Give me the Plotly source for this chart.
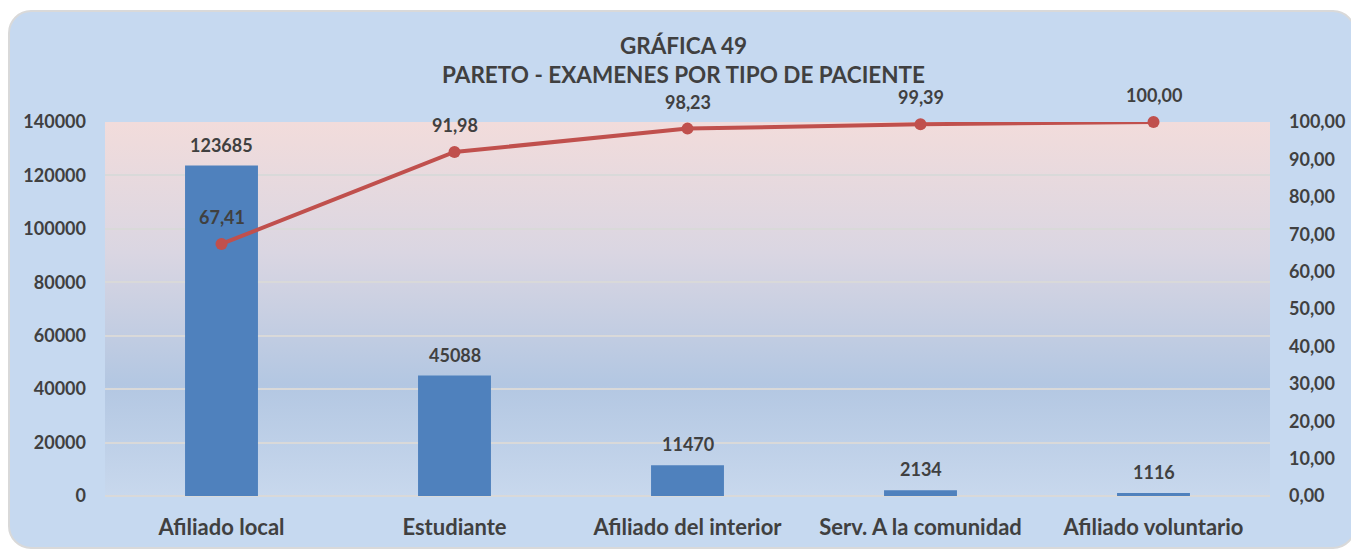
import plotly.graph_objects as go
import base64

categories = ["Afiliado local", "Estudiante", "Afiliado del interior", "Serv. A la comunidad", "Afiliado voluntario"]
examenes = [123685, 45088, 11470, 2134, 1116]
acumulado = [67.41, 91.98, 98.23, 99.39, 100.00]
left_ticks = [0, 20000, 40000, 60000, 80000, 100000, 120000, 140000]
right_ticks = [0, 10, 20, 30, 40, 50, 60, 70, 80, 90, 100]

# page body has an 8px margin -> figure is 1351x542 drawn at (8,8)
W, H = 1351, 542
L, R, T, B = 97, 89, 114, 54
pw, ph = W - L - R, H - T - B

FONT = "Lato"
TXT = "#404040"

svg = f'''<svg xmlns="http://www.w3.org/2000/svg" width="{W}" height="{H}" viewBox="0 0 {W} {H}" preserveAspectRatio="none">
<defs><linearGradient id="g" x1="0" y1="0" x2="0" y2="1">
<stop offset="0" stop-color="#f2dcdb"/>
<stop offset="0.35" stop-color="#dad6e2"/>
<stop offset="0.7" stop-color="#b3c7e2"/>
<stop offset="1" stop-color="#c8d8ed"/>
</linearGradient></defs>
<rect x="1" y="3" width="{W-5}" height="{H-5}" rx="22" ry="22" fill="#c6d9f0" stroke="#d9d9d9" stroke-width="2"/>
<rect x="{L}" y="{T}" width="{pw}" height="{ph}" fill="url(#g)"/>
</svg>'''
src = "data:image/svg+xml;base64," + base64.b64encode(svg.encode()).decode()

fig = go.Figure()
fig.add_trace(go.Bar(
    x=categories, y=examenes, marker=dict(color="#4f81bd", line=dict(width=0)),
    cliponaxis=False, showlegend=False, yaxis="y",
))
fig.add_trace(go.Scatter(
    x=categories, y=acumulado, mode="lines+markers",
    line=dict(color="#c0504d", width=4), marker=dict(color="#c0504d", size=12),
    cliponaxis=False, showlegend=False, yaxis="y2",
))

annotations = []
for c, v in zip(categories, examenes):
    annotations.append(dict(x=c, y=v, xref="x", yref="y", text=f"<b>{v}</b>", showarrow=False,
                            yshift=21, font=dict(family=FONT, size=18, color=TXT)))
for c, v in zip(categories, acumulado):
    annotations.append(dict(x=c, y=v, xref="x", yref="y2", text="<b>" + f"{v:.2f}".replace(".", ",") + "</b>",
                            showarrow=False, yshift=27, font=dict(family=FONT, size=18, color=TXT)))

fig.update_layout(
    width=W, height=H,
    margin=dict(l=L, r=R, t=T, b=B, pad=0, autoexpand=False),
    paper_bgcolor="white", plot_bgcolor="rgba(0,0,0,0)",
    separators=",.",
    font=dict(family=FONT, color=TXT),
    title=dict(text="<b>GRÁFICA 49</b><br><b>PARETO - EXAMENES POR TIPO DE PACIENTE</b>",
               x=0.5, xanchor="center", y=1 - 24 / H, yanchor="top", pad=dict(t=22),
               font=dict(family=FONT, size=22.5, color=TXT)),
    bargap=0.687,
    annotations=annotations,
    xaxis=dict(showgrid=False, showline=False, ticks="", automargin=False,
               tickfont=dict(family=FONT, size=22, color=TXT, weight="bold"),
               ticklabelstandoff=16),
    yaxis=dict(range=[0, 140000], tickvals=left_ticks, tickformat="d", automargin=False,
               showgrid=True, gridcolor="#d9d9d9", gridwidth=2,
               zeroline=True, zerolinecolor="#d9d9d9", zerolinewidth=2,
               showline=False, ticks="",
               tickfont=dict(family=FONT, size=18, color=TXT, weight="bold"),
               ticklabelstandoff=18),
    yaxis2=dict(range=[0, 100], tickvals=right_ticks, tickformat=".2f", automargin=False,
                overlaying="y", side="right", showgrid=False, zeroline=False,
                showline=False, ticks="",
                tickfont=dict(family=FONT, size=18, color=TXT, weight="bold"),
                ticklabelstandoff=18),
    images=[dict(source=src, xref="paper", yref="paper",
                 x=-L / pw, y=1 + T / ph, sizex=W / pw, sizey=H / ph,
                 xanchor="left", yanchor="top", sizing="stretch", layer="below")],
)

fig.write_html("out.html")
